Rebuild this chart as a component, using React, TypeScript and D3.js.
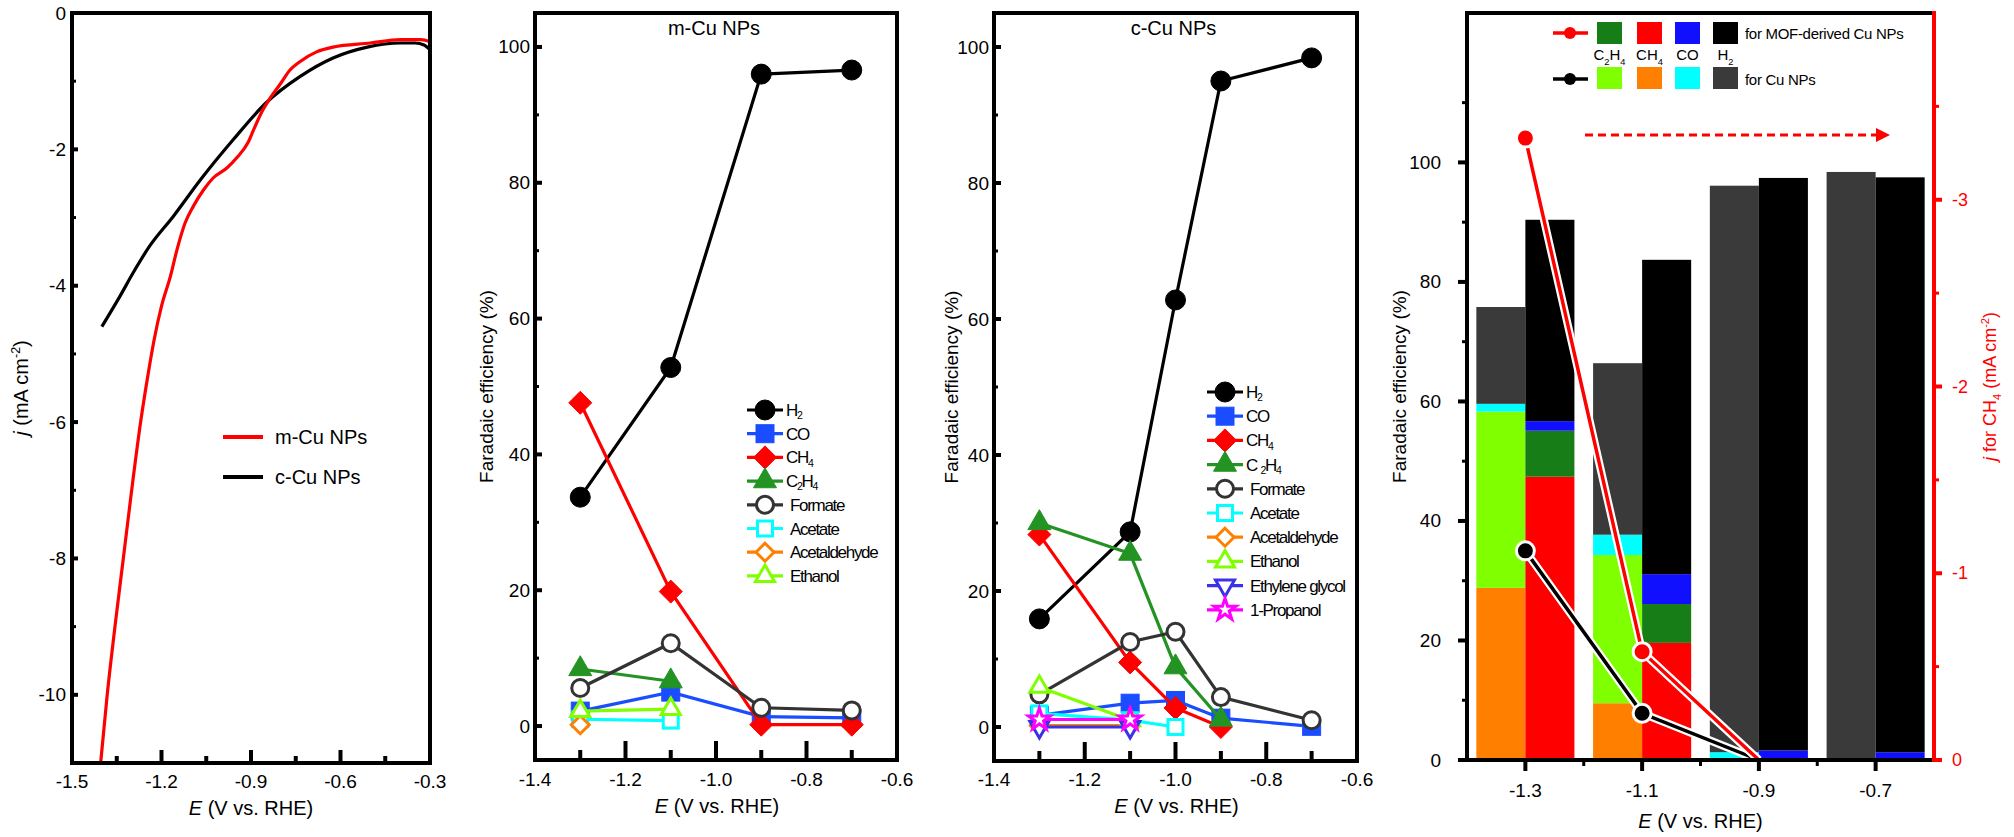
import React from "react";
import * as d3 from "d3";

const FONT = "'Liberation Sans', Arial, Helvetica, sans-serif";
const W = 2014;
const H = 837;

// ---------------- Panel 1: LSV curves ----------------
const lsvMCuE = [-1.404, -1.382, -1.356, -1.328, -1.3, -1.27, -1.245, -1.225, -1.2, -1.17, -1.148, -1.121, -1.094, -1.06, -1.027, -0.98, -0.947, -0.91, -0.89, -0.86, -0.836, -0.8, -0.77, -0.735, -0.68, -0.625, -0.5, -0.4, -0.33, -0.3];
const lsvMCuJ = [-11, -10, -9, -8, -7, -6, -5.3, -4.8, -4.3, -3.86, -3.47, -3.08, -2.84, -2.6, -2.42, -2.27, -2.12, -1.9, -1.7, -1.42, -1.25, -1.03, -0.84, -0.71, -0.57, -0.5, -0.44, -0.39, -0.39, -0.42];
const lsvCCuE = [-1.4, -1.34, -1.295, -1.24, -1.16, -1.07, -0.96, -0.85, -0.735, -0.625, -0.51, -0.4, -0.35, -0.32, -0.3];
const lsvCCuJ = [-4.6, -4.16, -3.81, -3.42, -2.98, -2.45, -1.86, -1.32, -0.93, -0.66, -0.5, -0.44, -0.44, -0.47, -0.54];
const lsvXTicks = [-1.5, -1.2, -0.9, -0.6, -0.3];
const lsvYTicks = [0, -2, -4, -6, -8, -10];

// ---------------- Panel 2: m-Cu NPs ----------------
const potM = [-1.3, -1.1, -0.9, -0.7];
const mH2 = [33.7, 52.8, 96.0, 96.6];
const mCO = [2.2, 5.0, 1.4, 1.2];
const mCH4 = [47.6, 19.8, 0.2, 0.2];
const mC2H4 = [8.4, 6.6];
const mFormate = [5.6, 12.2, 2.7, 2.3];
const mAcetate = [1.0, 0.8];
const mAcetaldehyde = [0.2];
const mEthanol = [2.2, 2.5];

// ---------------- Panel 3: c-Cu NPs ----------------
const potC = [-1.3, -1.1, -1.0, -0.9, -0.7];
const cH2 = [15.9, 28.7, 62.8, 95.0, 98.4];
const cCO = [1.7, 3.5, 3.9, 1.3, 0.1];
const cCH4 = [28.3, 9.5, 2.8, 0.0];
const cC2H4 = [30.0, 25.5, 8.8, 1.1];
const cFormate = [4.8, 12.5, 14.0, 4.4, 1.0];
const cAcetate = [2.0, 1.0, 0.0];
const cAcetaldehyde = [0.2, 0.2];
const cEthanol = [5.9, 1.0];
const cEthyleneGlycol = [0.0, 0.0];
const cPropanol = [1.1, 1.1];

const feXTicks = [-1.4, -1.2, -1.0, -0.8, -0.6];
const feYTicks = [0, 20, 40, 60, 80, 100];

// ---------------- Panel 4: stacked bars + j(CH4) ----------------
const barPot = [-1.3, -1.1, -0.9, -0.7];
const cuCH4 = [28.8, 9.5, 0, 0];
const cuC2H4 = [29.5, 24.8, 0, 0];
const cuCO = [1.3, 3.4, 1.3, 0];
const cuH2 = [16.2, 28.7, 94.8, 98.4];
const mofCH4 = [47.4, 19.6, 0, 0];
const mofC2H4 = [7.7, 6.5, 0, 0];
const mofCO = [1.6, 5.0, 1.6, 1.3];
const mofH2 = [33.7, 52.6, 95.8, 96.2];
const jPot = [-1.3, -1.1, -0.9];
const jCH4Mof = [-3.33, -0.58, 0];
const jCH4Cu = [-1.12, -0.25, 0];
const barYTicks = [0, 20, 40, 60, 80, 100];
const jTicks = [0, -1, -2, -3];

type Part = [string, string?];

function Rich({ parts, size, ...rest }: any) {
  let cur = 0;
  return (
    <text fontSize={size} style={{ whiteSpace: "pre" }} {...rest}>
      {parts.map(([t, m]: Part, i: number) => {
        const target = m === "sub" ? size * 0.3 : m === "sup" ? -size * 0.38 : 0;
        const dy = target - cur;
        cur = target;
        const fs = m === "sub" || m === "sup" ? size * 0.62 : undefined;
        return (
          <tspan key={i} dy={dy !== 0 ? dy : undefined} fontSize={fs} fontStyle={m === "i" ? "italic" : undefined}>
            {t}
          </tspan>
        );
      })}
    </text>
  );
}

type Shape = "circle" | "square" | "diamond" | "triangle" | "triangleDown" | "star";

function Marker({ shape, x, y, color, filled }: { shape: Shape; x: number; y: number; color: string; filled: boolean }) {
  const fill = filled ? color : "#fff";
  const sw = filled ? 1 : 3;
  if (shape === "circle") {
    return <circle cx={x} cy={y} r={filled ? 10 : 8.5} fill={fill} stroke={color} strokeWidth={sw} />;
  }
  if (shape === "square") {
    const s = filled ? 18 : 15;
    return <rect x={x - s / 2} y={y - s / 2} width={s} height={s} fill={fill} stroke={color} strokeWidth={sw} />;
  }
  if (shape === "diamond") {
    const d = filled ? 11.5 : 9;
    return <polygon points={`${x},${y - d} ${x + d},${y} ${x},${y + d} ${x - d},${y}`} fill={fill} stroke={color} strokeWidth={sw} />;
  }
  if (shape === "triangle" || shape === "triangleDown") {
    const s = filled ? 23 : 19;
    const k = shape === "triangle" ? 1 : -1;
    const a = s * 0.577;
    const b = s * 0.289;
    return (
      <polygon
        points={`${x},${y - k * a} ${x + s / 2},${y + k * b} ${x - s / 2},${y + k * b}`}
        fill={fill}
        stroke={color}
        strokeWidth={sw}
        strokeLinejoin="miter"
      />
    );
  }
  const p = d3.symbol().type(d3.symbolStar).size(150)() as string;
  return <path d={p} transform={`translate(${x},${y})`} fill="#fff" stroke={color} strokeWidth={3} />;
}

const fmt1 = (v: number) => v.toFixed(1);

function LSVPanel() {
  const P = { x0: 72, x1: 430, y0: 13, y1: 763 };
  const x = d3.scaleLinear().domain([-1.5, -0.3]).range([P.x0, P.x1]);
  const y = d3.scaleLinear().domain([-11, 0]).range([P.y1, P.y0]);
  const line = d3
    .line<[number, number]>()
    .x((d) => x(d[0]))
    .y((d) => y(d[1]))
    .curve(d3.curveMonotoneX);
  const mPts = lsvMCuE.map((e, i) => [e, lsvMCuJ[i]] as [number, number]);
  const cPts = lsvCCuE.map((e, i) => [e, lsvCCuJ[i]] as [number, number]);
  const xMinor = lsvXTicks.slice(0, -1).map((v, i) => (v + lsvXTicks[i + 1]) / 2);
  const yMinor = lsvYTicks.slice(0, -1).map((v, i) => (v + lsvYTicks[i + 1]) / 2);
  return (
    <g>
      <defs>
        <clipPath id="clipLsv">
          <rect x={P.x0} y={P.y0} width={P.x1 - P.x0} height={P.y1 - P.y0} />
        </clipPath>
      </defs>
      <g clipPath="url(#clipLsv)">
        <path d={line(cPts) as string} fill="none" stroke="#000" strokeWidth={3.2} />
        <path d={line(mPts) as string} fill="none" stroke="#ff0000" strokeWidth={3.2} />
      </g>
      <rect x={P.x0} y={P.y0} width={P.x1 - P.x0} height={P.y1 - P.y0} fill="none" stroke="#000" strokeWidth={4} />
      {lsvXTicks.map((v) => (
        <line key={"xm" + v} x1={x(v)} x2={x(v)} y1={P.y1} y2={P.y1 - 13} stroke="#000" strokeWidth={4} />
      ))}
      {xMinor.map((v) => (
        <line key={"xn" + v} x1={x(v)} x2={x(v)} y1={P.y1} y2={P.y1 - 7} stroke="#000" strokeWidth={4} />
      ))}
      {lsvYTicks.map((v) => (
        <line key={"ym" + v} x1={P.x0} x2={P.x0 + 6} y1={y(v)} y2={y(v)} stroke="#000" strokeWidth={4} />
      ))}
      {yMinor.map((v) => (
        <line key={"yn" + v} x1={P.x0} x2={P.x0 + 4} y1={y(v)} y2={y(v)} stroke="#000" strokeWidth={3} />
      ))}
      {lsvXTicks.map((v) => (
        <text key={"xl" + v} x={x(v)} y={788} fontSize={19} textAnchor="middle">
          {fmt1(v)}
        </text>
      ))}
      {lsvYTicks.map((v) => (
        <text key={"yl" + v} x={P.x0 - 6} y={y(v)} fontSize={19} textAnchor="end" dominantBaseline="central">
          {String(v)}
        </text>
      ))}
      <Rich parts={[["E", "i"], [" (V vs. RHE)"]]} size={20} x={(P.x0 + P.x1) / 2} y={815} textAnchor="middle" />
      <Rich
        parts={[["j", "i"], [" (mA cm"], ["-2", "sup"], [")"]]}
        size={20}
        x={0}
        y={0}
        textAnchor="middle"
        transform={`translate(28,${(P.y0 + P.y1) / 2}) rotate(-90)`}
      />
      <line x1={223} x2={263} y1={437} y2={437} stroke="#ff0000" strokeWidth={4} />
      <text x={275} y={437} fontSize={20} dominantBaseline="central">
        m-Cu NPs
      </text>
      <line x1={223} x2={263} y1={477} y2={477} stroke="#000" strokeWidth={4} />
      <text x={275} y={477} fontSize={20} dominantBaseline="central">
        c-Cu NPs
      </text>
    </g>
  );
}

type Series = { label: Part[]; ys: number[]; color: string; shape: Shape; filled: boolean };

function FEPanel({
  P,
  pots,
  series,
  title,
  legendX,
  legendY0,
  legendStep,
  yTitleX,
}: {
  P: { x0: number; x1: number; y0: number; y1: number };
  pots: number[];
  series: Series[];
  title: string;
  legendX: number;
  legendY0: number;
  legendStep: number;
  yTitleX: number;
}) {
  const x = d3.scaleLinear().domain([-1.4, -0.6]).range([P.x0, P.x1]);
  const y = d3.scaleLinear().domain([-5, 105]).range([P.y1, P.y0]);
  const line = d3
    .line<[number, number]>()
    .x((d) => x(d[0]))
    .y((d) => y(d[1]));
  const xMinor = feXTicks.slice(0, -1).map((v, i) => (v + feXTicks[i + 1]) / 2);
  const yMinor = feYTicks.slice(0, -1).map((v, i) => (v + feYTicks[i + 1]) / 2);
  const cx = (P.x0 + P.x1) / 2;
  return (
    <g>
      {series.map((s, si) => {
        const pts = s.ys.map((v, i) => [pots[i], v] as [number, number]);
        return (
          <g key={"s" + si}>
            {pts.length > 1 && <path d={line(pts) as string} fill="none" stroke={s.color} strokeWidth={3.2} />}
            {pts.map((p, i) => (
              <Marker key={i} shape={s.shape} x={x(p[0])} y={y(p[1])} color={s.color} filled={s.filled} />
            ))}
          </g>
        );
      })}
      <rect x={P.x0} y={P.y0} width={P.x1 - P.x0} height={P.y1 - P.y0} fill="none" stroke="#000" strokeWidth={4} />
      {feXTicks.map((v) => (
        <line key={"xm" + v} x1={x(v)} x2={x(v)} y1={P.y1} y2={P.y1 - 19} stroke="#000" strokeWidth={4} />
      ))}
      {xMinor.map((v) => (
        <line key={"xn" + v} x1={x(v)} x2={x(v)} y1={P.y1} y2={P.y1 - 10} stroke="#000" strokeWidth={4} />
      ))}
      {feYTicks.map((v) => (
        <line key={"ym" + v} x1={P.x0} x2={P.x0 + 7} y1={y(v)} y2={y(v)} stroke="#000" strokeWidth={4} />
      ))}
      {yMinor.map((v) => (
        <line key={"yn" + v} x1={P.x0} x2={P.x0 + 4} y1={y(v)} y2={y(v)} stroke="#000" strokeWidth={3} />
      ))}
      {feXTicks.map((v) => (
        <text key={"xl" + v} x={x(v)} y={786} fontSize={19} textAnchor="middle">
          {fmt1(v)}
        </text>
      ))}
      {feYTicks.map((v) => (
        <text key={"yl" + v} x={P.x0 - 5} y={y(v)} fontSize={19} textAnchor="end" dominantBaseline="central">
          {String(v)}
        </text>
      ))}
      <text x={cx - 2} y={28} fontSize={20} textAnchor="middle" dominantBaseline="central">
        {title}
      </text>
      <Rich parts={[["E", "i"], [" (V vs. RHE)"]]} size={20} x={cx + 1} y={813} textAnchor="middle" />
      <text
        fontSize={19}
        textAnchor="middle"
        dominantBaseline="central"
        transform={`translate(${yTitleX},${(P.y0 + P.y1) / 2}) rotate(-90)`}
      >
        Faradaic efficiency (%)
      </text>
      {series.map((s, i) => {
        const ly = legendY0 + i * legendStep;
        return (
          <g key={"lg" + i}>
            <line x1={legendX - 18} x2={legendX + 18} y1={ly} y2={ly} stroke={s.color} strokeWidth={3.2} />
            <Marker shape={s.shape} x={legendX} y={ly} color={s.color} filled={s.filled} />
            <Rich
              parts={s.label}
              size={17}
              x={legendX + (s.filled ? 21 : 25)}
              y={ly}
              dominantBaseline="central"
              letterSpacing={-1.3}
            />
          </g>
        );
      })}
    </g>
  );
}

const COL = {
  h2: "#000000",
  co: "#1a4dff",
  ch4: "#ff0000",
  c2h4: "#239323",
  formate: "#333333",
  acetate: "#00ffff",
  acetaldehyde: "#ff8000",
  ethanol: "#80ff00",
  eg: "#3a32e8",
  propanol: "#ff00ff",
};

const H2L: Part[] = [["H"], ["2", "sub"]];
const COL_: Part[] = [["CO"]];
const CH4L: Part[] = [["CH"], ["4", "sub"]];

const seriesM: Series[] = [
  { label: H2L, ys: mH2, color: COL.h2, shape: "circle", filled: true },
  { label: COL_, ys: mCO, color: COL.co, shape: "square", filled: true },
  { label: CH4L, ys: mCH4, color: COL.ch4, shape: "diamond", filled: true },
  { label: [["C"], ["2", "sub"], ["H"], ["4", "sub"]], ys: mC2H4, color: COL.c2h4, shape: "triangle", filled: true },
  { label: [["Formate"]], ys: mFormate, color: COL.formate, shape: "circle", filled: false },
  { label: [["Acetate"]], ys: mAcetate, color: COL.acetate, shape: "square", filled: false },
  { label: [["Acetaldehyde"]], ys: mAcetaldehyde, color: COL.acetaldehyde, shape: "diamond", filled: false },
  { label: [["Ethanol"]], ys: mEthanol, color: COL.ethanol, shape: "triangle", filled: false },
];

const seriesC: Series[] = [
  { label: H2L, ys: cH2, color: COL.h2, shape: "circle", filled: true },
  { label: COL_, ys: cCO, color: COL.co, shape: "square", filled: true },
  { label: CH4L, ys: cCH4, color: COL.ch4, shape: "diamond", filled: true },
  { label: [["C "], ["2", "sub"], ["H"], ["4", "sub"]], ys: cC2H4, color: COL.c2h4, shape: "triangle", filled: true },
  { label: [["Formate"]], ys: cFormate, color: COL.formate, shape: "circle", filled: false },
  { label: [["Acetate"]], ys: cAcetate, color: COL.acetate, shape: "square", filled: false },
  { label: [["Acetaldehyde"]], ys: cAcetaldehyde, color: COL.acetaldehyde, shape: "diamond", filled: false },
  { label: [["Ethanol"]], ys: cEthanol, color: COL.ethanol, shape: "triangle", filled: false },
  { label: [["Ethylene glycol"]], ys: cEthyleneGlycol, color: COL.eg, shape: "triangleDown", filled: false },
  { label: [["1-Propanol"]], ys: cPropanol, color: COL.propanol, shape: "star", filled: false },
];

const BAR = {
  cuH2: "#3a3a3a",
  cuCO: "#00ffff",
  cuC2H4: "#80ff00",
  cuCH4: "#ff8000",
  mofH2: "#000000",
  mofCO: "#1010ff",
  mofC2H4: "#177d17",
  mofCH4: "#ff0000",
};

function BarPanel() {
  const P = { x0: 1467, x1: 1934, y0: 13, y1: 760 };
  const x = d3.scaleLinear().domain([-1.4, -0.6]).range([P.x0, P.x1]);
  const y = d3.scaleLinear().domain([0, 125]).range([P.y1, P.y0]);
  const yr = d3.scaleLinear().domain([0, -4]).range([P.y1, P.y0]);
  const bw = (x(barPot[1]) - x(barPot[0])) * 0.42;
  const cuStacks = [cuCH4, cuC2H4, cuCO, cuH2];
  const cuCols = [BAR.cuCH4, BAR.cuC2H4, BAR.cuCO, BAR.cuH2];
  const mofStacks = [mofCH4, mofC2H4, mofCO, mofH2];
  const mofCols = [BAR.mofCH4, BAR.mofC2H4, BAR.mofCO, BAR.mofH2];
  const line = d3
    .line<[number, number]>()
    .x((d) => x(d[0]))
    .y((d) => yr(d[1]));
  const mofPts = jPot.map((p, i) => [p, jCH4Mof[i]] as [number, number]);
  const cuPts = jPot.map((p, i) => [p, jCH4Cu[i]] as [number, number]);
  const xMinor = barPot.slice(0, -1).map((v, i) => (v + barPot[i + 1]) / 2);
  const yMinor = d3.range(10, 120, 20);
  const jMinor = [-0.5, -1.5, -2.5, -3.5];

  const stackRects = (stacks: number[][], cols: string[], side: number, key: string) =>
    barPot.map((p, gi) => {
      let acc = 0;
      const x0 = side < 0 ? x(p) - bw : x(p);
      return stacks.map((arr, si) => {
        const v = arr[gi];
        const r = (
          <rect key={key + gi + "-" + si} x={x0} width={bw} y={y(acc + v)} height={y(acc) - y(acc + v)} fill={cols[si]} />
        );
        acc += v;
        return v > 0 ? r : null;
      });
    });

  const legendSq = [BAR.mofC2H4, BAR.mofCH4, BAR.mofCO, BAR.mofH2];
  const legendSq2 = [BAR.cuC2H4, BAR.cuCH4, BAR.cuCO, BAR.cuH2];
  const sqX = [1597, 1637, 1675, 1713];
  const sqLabels: Part[][] = [
    [["C"], ["2", "sub"], ["H"], ["4", "sub"]],
    [["CH"], ["4", "sub"]],
    [["CO"]],
    [["H"], ["2", "sub"]],
  ];

  return (
    <g>
      {stackRects(cuStacks, cuCols, -1, "cu")}
      {stackRects(mofStacks, mofCols, 1, "mof")}
      <path d={line(cuPts) as string} fill="none" stroke="#fff" strokeWidth={8} />
      <path d={line(cuPts) as string} fill="none" stroke="#000" strokeWidth={3.5} />
      <path d={line(mofPts) as string} fill="none" stroke="#fff" strokeWidth={8} />
      <path d={line(mofPts) as string} fill="none" stroke="#ff0000" strokeWidth={3.5} />
      {cuPts.slice(0, 2).map((p, i) => (
        <circle key={"cm" + i} cx={x(p[0])} cy={yr(p[1])} r={9} fill="#000" stroke="#fff" strokeWidth={3} />
      ))}
      {mofPts.slice(0, 2).map((p, i) => (
        <circle key={"mm" + i} cx={x(p[0])} cy={yr(p[1])} r={9} fill="#ff0000" stroke="#fff" strokeWidth={3} />
      ))}
      {/* axes */}
      <line x1={P.x0} x2={P.x1} y1={P.y0} y2={P.y0} stroke="#000" strokeWidth={4} />
      <line x1={P.x0} x2={P.x1} y1={P.y1} y2={P.y1} stroke="#000" strokeWidth={4} />
      <line x1={P.x0} x2={P.x0} y1={P.y0 - 2} y2={P.y1 + 2} stroke="#000" strokeWidth={4} />
      <line x1={P.x1} x2={P.x1} y1={P.y0 - 2} y2={P.y1 + 2} stroke="#ff0000" strokeWidth={4} />
      {barPot.map((v) => (
        <line key={"xt" + v} x1={x(v)} x2={x(v)} y1={P.y1} y2={P.y1 + 11} stroke="#000" strokeWidth={4} />
      ))}
      {xMinor.map((v) => (
        <line key={"xn" + v} x1={x(v)} x2={x(v)} y1={P.y1} y2={P.y1 + 6} stroke="#000" strokeWidth={3} />
      ))}
      {barYTicks.map((v) => (
        <line key={"yt" + v} x1={P.x0 - 9} x2={P.x0} y1={y(v)} y2={y(v)} stroke="#000" strokeWidth={4} />
      ))}
      {yMinor.map((v) => (
        <line key={"yn" + v} x1={P.x0 - 5} x2={P.x0} y1={y(v)} y2={y(v)} stroke="#000" strokeWidth={3} />
      ))}
      {jTicks.map((v) => (
        <line key={"jt" + v} x1={P.x1} x2={P.x1 + 8} y1={yr(v)} y2={yr(v)} stroke="#ff0000" strokeWidth={4} />
      ))}
      {jMinor.map((v) => (
        <line key={"jn" + v} x1={P.x1} x2={P.x1 + 5} y1={yr(v)} y2={yr(v)} stroke="#ff0000" strokeWidth={3} />
      ))}
      {barPot.map((v) => (
        <text key={"xl" + v} x={x(v)} y={797} fontSize={19} textAnchor="middle">
          {fmt1(v)}
        </text>
      ))}
      {barYTicks.map((v) => (
        <text key={"yl" + v} x={P.x0 - 26} y={y(v)} fontSize={19} textAnchor="end" dominantBaseline="central">
          {String(v)}
        </text>
      ))}
      {jTicks.map((v) => (
        <text key={"jl" + v} x={P.x1 + 18} y={yr(v)} fontSize={18} fill="#ff0000" dominantBaseline="central">
          {String(v)}
        </text>
      ))}
      <Rich parts={[["E", "i"], [" (V vs. RHE)"]]} size={20} x={(P.x0 + P.x1) / 2} y={828} textAnchor="middle" />
      <text
        fontSize={19}
        textAnchor="middle"
        dominantBaseline="central"
        transform={`translate(1399,${(P.y0 + P.y1) / 2}) rotate(-90)`}
      >
        Faradaic efficiency (%)
      </text>
      <Rich
        parts={[["j", "i"], [" for CH"], ["4", "sub"], [" (mA cm"], ["-2", "sup"], [")"]]}
        size={18}
        fill="#ff0000"
        x={0}
        y={0}
        textAnchor="middle"
        transform={`translate(1996,${(P.y0 + P.y1) / 2}) rotate(-90)`}
      />
      {/* dashed arrow */}
      <line x1={1585} x2={1878} y1={135} y2={135} stroke="#ff0000" strokeWidth={3} strokeDasharray="8,5" />
      <polygon points="1876,128 1890,135 1876,142" fill="#ff0000" />
      {/* legend */}
      <line x1={1553} x2={1588} y1={33} y2={33} stroke="#ff0000" strokeWidth={3.5} />
      <circle cx={1570} cy={33} r={6} fill="#ff0000" />
      <line x1={1553} x2={1588} y1={79} y2={79} stroke="#000" strokeWidth={3.5} />
      <circle cx={1570} cy={79} r={6} fill="#000" />
      {legendSq.map((c, i) => (
        <rect key={"lq" + i} x={sqX[i]} y={22} width={25} height={22} fill={c} />
      ))}
      {legendSq2.map((c, i) => (
        <rect key={"lq2" + i} x={sqX[i]} y={67} width={25} height={22} fill={c} />
      ))}
      {sqLabels.map((parts, i) => (
        <Rich key={"sl" + i} parts={parts} size={15} x={sqX[i] + 12.5} y={60} textAnchor="middle" />
      ))}
      <text x={1745} y={33} fontSize={15} dominantBaseline="central" letterSpacing={-0.3}>
        for MOF-derived Cu NPs
      </text>
      <text x={1745} y={79} fontSize={15} dominantBaseline="central" letterSpacing={-0.3}>
        for Cu NPs
      </text>
    </g>
  );
}

export default function App() {
  return (
    <svg
      width={W}
      height={H}
      viewBox={`0 0 ${W} ${H}`}
      style={{ position: "absolute", left: 0, top: 0, display: "block", background: "#fff" }}
      fontFamily={FONT}
    >
      <rect width={W} height={H} fill="#fff" />
      <LSVPanel />
      <FEPanel
        P={{ x0: 535, x1: 897, y0: 13, y1: 760 }}
        pots={potM}
        series={seriesM}
        title="m-Cu NPs"
        legendX={765}
        legendY0={410}
        legendStep={23.7}
        yTitleX={486}
      />
      <FEPanel
        P={{ x0: 994, x1: 1357, y0: 13, y1: 761 }}
        pots={potC}
        series={seriesC}
        title="c-Cu NPs"
        legendX={1225}
        legendY0={392}
        legendStep={24.2}
        yTitleX={951}
      />
      <BarPanel />
    </svg>
  );
}
